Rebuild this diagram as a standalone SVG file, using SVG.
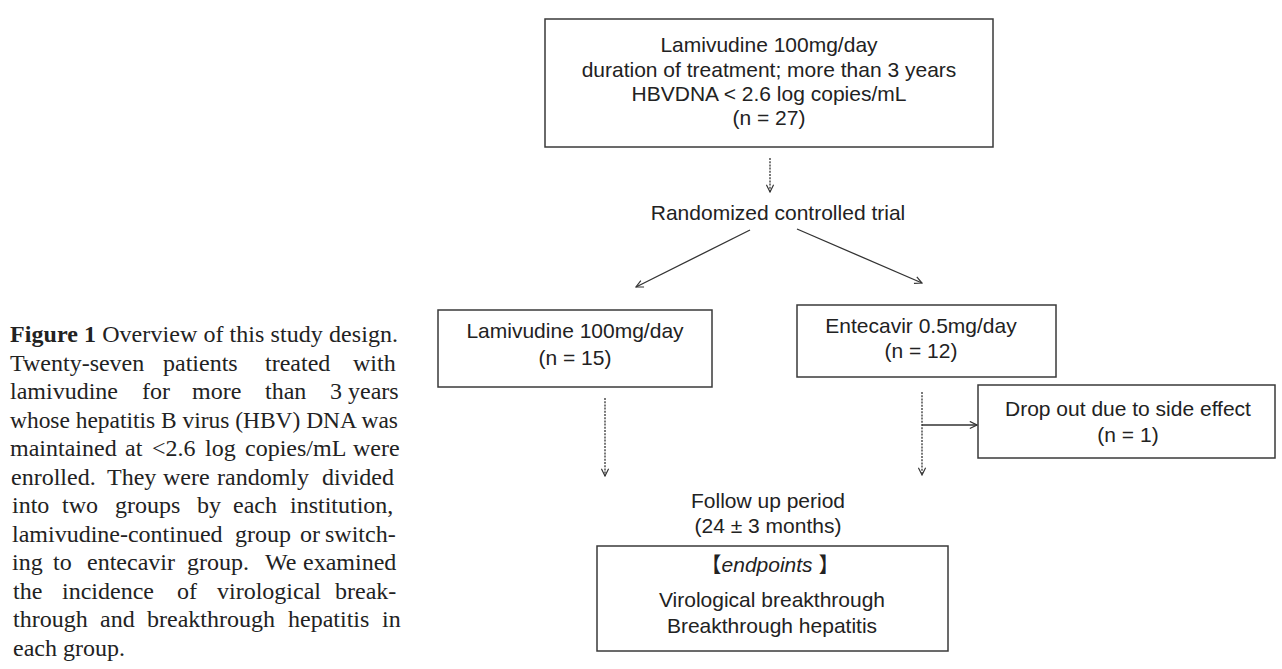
<svg xmlns="http://www.w3.org/2000/svg" width="1282" height="669" viewBox="0 0 1282 669">
<style>
.box{fill:none;stroke:#3a3a3a;stroke-width:1.5}
.t{font-family:"Liberation Sans",Arial,"Noto Sans CJK JP",sans-serif;font-size:21px;fill:#222;text-anchor:middle}
.c{fill:none;stroke:#333;stroke-width:1.3}
.d{stroke-dasharray:2 1.2}
.cap{font-family:"Liberation Serif","Times New Roman",serif;font-size:24px;fill:#222}
</style>
<defs>
<marker id="ah" viewBox="0 0 10 10" refX="9" refY="5" markerWidth="9" markerHeight="9" markerUnits="userSpaceOnUse" orient="auto">
<path d="M1,1 L9,5 L1,9" fill="none" stroke="#333" stroke-width="1.3"/>
</marker>
</defs>
<rect width="1282" height="669" fill="#fff"/>

<g id="caption" class="cap">
<text x="10" y="342" textLength="388" lengthAdjust="spacing"><tspan font-weight="bold">Figure 1</tspan>  Overview of this study design.</text>
<text y="370.5"><tspan x="10">Twenty-seven</tspan><tspan x="163">patients</tspan><tspan x="265">treated</tspan><tspan x="353">with</tspan></text>
<text y="399"><tspan x="10">lamivudine</tspan><tspan x="142">for</tspan><tspan x="192">more</tspan><tspan x="265">than</tspan><tspan x="330">3 years</tspan></text>
<text x="10" y="427.5" textLength="388" lengthAdjust="spacingAndGlyphs">whose hepatitis B virus (HBV) DNA was</text>
<text y="456"><tspan x="10">maintained</tspan><tspan x="125">at</tspan><tspan x="152">&lt;2.6</tspan><tspan x="205">log</tspan><tspan x="245">copies/mL</tspan><tspan x="353">were</tspan></text>
<text y="484.5"><tspan x="11">enrolled.</tspan><tspan x="107">They</tspan><tspan x="163">were</tspan><tspan x="217">randomly</tspan><tspan x="322">divided</tspan></text>
<text y="513"><tspan x="12">into</tspan><tspan x="62">two</tspan><tspan x="115">groups</tspan><tspan x="197">by</tspan><tspan x="233">each</tspan><tspan x="290">institution,</tspan></text>
<text y="541.5"><tspan x="12">lamivudine-continued</tspan><tspan x="235">group</tspan><tspan x="300">or</tspan><tspan x="325">switch-</tspan></text>
<text y="570"><tspan x="12">ing</tspan><tspan x="53">to</tspan><tspan x="87">entecavir</tspan><tspan x="187">group.</tspan><tspan x="265">We</tspan><tspan x="303">examined</tspan></text>
<text y="598.5"><tspan x="13">the</tspan><tspan x="62">incidence</tspan><tspan x="177">of</tspan><tspan x="217">virological</tspan><tspan x="335">break-</tspan></text>
<text y="627"><tspan x="13">through</tspan><tspan x="100">and</tspan><tspan x="147">breakthrough</tspan><tspan x="288">hepatitis</tspan><tspan x="382">in</tspan></text>
<text x="13" y="655.5">each group.</text>
</g>

<g id="connectors">
<line class="c d" x1="770" y1="158" x2="770" y2="192" marker-end="url(#ah)"/>
<line class="c" x1="750" y1="230" x2="636" y2="287" marker-end="url(#ah)"/>
<line class="c" x1="797" y1="229" x2="922" y2="283" marker-end="url(#ah)"/>
<line class="c d" x1="605" y1="398" x2="605" y2="476" marker-end="url(#ah)"/>
<line class="c d" x1="922" y1="392" x2="922" y2="475" marker-end="url(#ah)"/>
<line class="c" x1="922" y1="425" x2="977" y2="425" marker-end="url(#ah)"/>
</g>

<g id="node-start">
<rect class="box" x="545" y="19" width="448" height="128"/>
<text class="t" x="769" y="52">Lamivudine 100mg/day</text>
<text class="t" x="769" y="77">duration of treatment; more than 3 years</text>
<text class="t" x="769" y="101">HBVDNA &lt; 2.6 log copies/mL</text>
<text class="t" x="769" y="125">(n = 27)</text>
</g>

<g id="node-rct">
<text class="t" x="778" y="220">Randomized controlled trial</text>
</g>

<g id="node-lam">
<rect class="box" x="438" y="310" width="274" height="77"/>
<text class="t" x="575" y="338">Lamivudine 100mg/day</text>
<text class="t" x="575" y="365">(n = 15)</text>
</g>

<g id="node-etv">
<rect class="box" x="797" y="305" width="259" height="72"/>
<text class="t" x="921" y="333">Entecavir 0.5mg/day</text>
<text class="t" x="921" y="358">(n = 12)</text>
</g>

<g id="node-drop">
<rect class="box" x="978" y="385" width="297" height="73"/>
<text class="t" x="1128" y="416">Drop out due to side effect</text>
<text class="t" x="1128" y="442">(n = 1)</text>
</g>

<g id="node-followup">
<text class="t" x="768" y="508">Follow up period</text>
<text class="t" x="768" y="533">(24 ± 3 months)</text>
</g>

<g id="node-endpoints">
<rect class="box" x="597" y="546" width="351" height="105"/>
<text class="t" x="770" y="572">【<tspan font-style="italic">endpoints</tspan> 】</text>
<text class="t" x="772" y="607">Virological breakthrough</text>
<text class="t" x="772" y="633">Breakthrough hepatitis</text>
</g>
</svg>
